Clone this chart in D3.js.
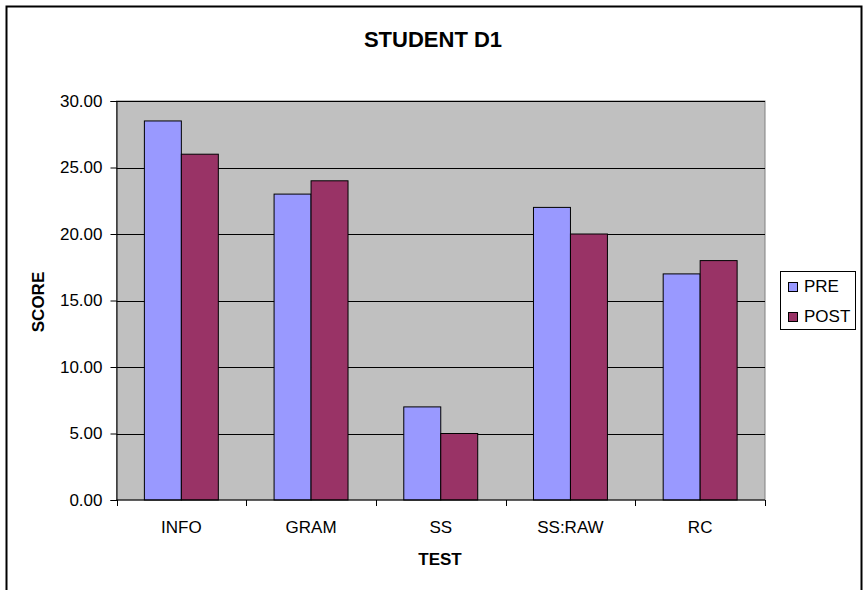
<!DOCTYPE html>
<html lang="en">
<head>
    <meta charset="UTF-8">
    <title>Student D1</title>
    <script src="https://d3js.org/d3.v7.min.js"></script>
    <style>
        body { margin: 0; background: #fff; }
        text { font-family: "Liberation Sans", Arial, sans-serif; fill: #000; }
    </style>
</head>
<body>
<script>
    const width  = 864;
    const height = 590;

    const categories = ["INFO", "GRAM", "SS", "SS:RAW", "RC"];
    const series     = ["PRE", "POST"];
    const preValues  = [28.5, 23, 7, 22, 17];
    const postValues = [26, 24, 5, 20, 18];
    const yTicks     = [0, 5, 10, 15, 20, 25, 30];
    const colors     = ["#9999FF", "#993366"];

    const plot = {left: 116.5, right: 765, top: 101, bottom: 500};

    const data = categories.map((c, i) => ({cat: c, values: [preValues[i], postValues[i]]}));

    const x0 = d3.scaleBand()
                 .domain(categories)
                 .range([plot.left, plot.right]);

    const x1 = d3.scaleBand()
                 .domain(series)
                 .range([0, x0.bandwidth()])
                 .paddingOuter(0.754);

    const y = d3.scaleLinear()
                .domain([0, 30])
                .range([plot.bottom, plot.top]);

    const svg = d3.select("body").append("svg").attr("width", width).attr("height", height);

    // outer chart frame
    svg.append("rect")
       .attr("x", 6.5).attr("y", 6.5)
       .attr("width", 855).attr("height", 600)
       .attr("fill", "none").attr("stroke", "#000").attr("stroke-width", 2);

    svg.append("text")
       .attr("x", 433).attr("y", 47)
       .attr("text-anchor", "middle")
       .style("font-size", "22px").style("font-weight", "bold")
       .text("STUDENT D1");

    // plot background
    svg.append("rect")
       .attr("x", plot.left).attr("y", plot.top)
       .attr("width", plot.right - plot.left).attr("height", plot.bottom - plot.top)
       .attr("fill", "#C0C0C0").attr("stroke", "#808080");

    // gridlines
    svg.append("g").selectAll("line")
       .data(yTicks.filter(d => d > 0))
       .join("line")
       .attr("x1", plot.left).attr("x2", plot.right)
       .attr("y1", d => Math.round(y(d)) + 0.5).attr("y2", d => Math.round(y(d)) + 0.5)
       .attr("stroke", "#000");

    // bars
    svg.append("g").selectAll("g")
       .data(data)
       .join("g")
       .attr("transform", d => `translate(${x0(d.cat)},0)`)
       .selectAll("rect")
       .data(d => d.values.map((v, i) => ({s: series[i], v: v, i: i})))
       .join("rect")
       .attr("x", d => x1(d.s))
       .attr("width", x1.bandwidth())
       .attr("y", d => y(d.v))
       .attr("height", d => y(0) - y(d.v))
       .attr("fill", d => colors[d.i])
       .attr("stroke", "#000");

    // y axis
    const yAxis = d3.axisLeft(y).tickValues(yTicks).tickFormat(d3.format(".2f")).tickSize(6).tickPadding(8);
    const gy = svg.append("g").attr("transform", `translate(${plot.left},0)`).call(yAxis);
    gy.selectAll("text").style("font-size", "17px");

    // x axis
    const xTickPos = categories.map(c => x0(c)).concat([plot.right]);
    svg.append("line")
       .attr("x1", plot.left).attr("x2", plot.right)
       .attr("y1", plot.bottom).attr("y2", plot.bottom)
       .attr("stroke", "#000");
    svg.append("g").selectAll("line")
       .data(xTickPos)
       .join("line")
       .attr("x1", d => Math.round(d) + 0.5).attr("x2", d => Math.round(d) + 0.5)
       .attr("y1", plot.bottom).attr("y2", plot.bottom + 6)
       .attr("stroke", "#000");
    svg.append("g").selectAll("text")
       .data(categories)
       .join("text")
       .attr("x", d => x0(d) + x0.bandwidth() / 2)
       .attr("y", 533)
       .attr("text-anchor", "middle")
       .style("font-size", "17px")
       .text(d => d);

    // axis titles
    svg.append("text")
       .attr("x", 440).attr("y", 565)
       .attr("text-anchor", "middle")
       .style("font-size", "17px").style("font-weight", "bold")
       .text("TEST");

    svg.append("text")
       .attr("transform", "translate(44,302) rotate(-90)")
       .attr("text-anchor", "middle")
       .style("font-size", "17px").style("font-weight", "bold")
       .text("SCORE");

    // legend
    const legend = svg.append("g");
    legend.append("rect")
          .attr("x", 780.5).attr("y", 271.5)
          .attr("width", 75).attr("height", 58)
          .attr("fill", "#fff").attr("stroke", "#000");
    const items = legend.selectAll("g")
          .data(series)
          .join("g")
          .attr("transform", (d, i) => `translate(788,${282 + i * 30})`);
    items.append("rect")
         .attr("x", 0.5).attr("y", 0.5)
         .attr("width", 9).attr("height", 9)
         .attr("fill", (d, i) => colors[i]).attr("stroke", "#000");
    items.append("text")
         .attr("x", 16).attr("y", 10)
         .style("font-size", "17px")
         .text(d => d);
</script>
</body>
</html>
